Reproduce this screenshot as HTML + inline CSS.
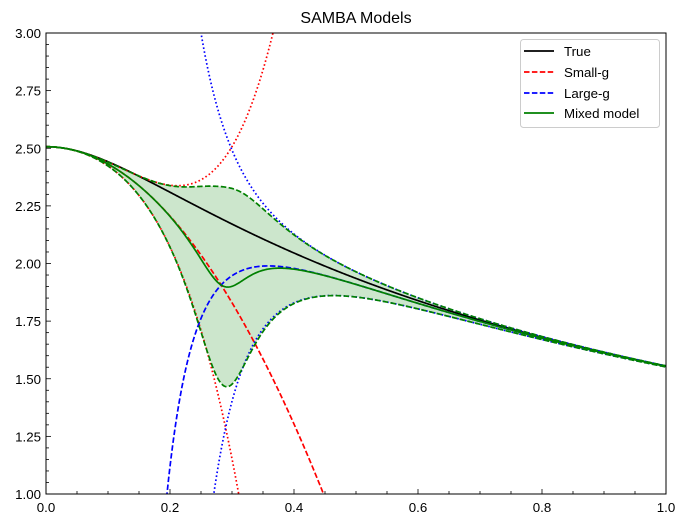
<!DOCTYPE html>
<html><head><meta charset="utf-8"><style>
html,body{margin:0;padding:0;background:#fff;width:686px;height:523px;overflow:hidden;}
svg{display:block;font-family:"Liberation Sans","DejaVu Sans",sans-serif;}
</style></head><body>
<svg id="s" width="686" height="523" viewBox="0 0 686 523" xmlns="http://www.w3.org/2000/svg">
<defs><clipPath id="c"><rect x="46" y="33" width="620" height="461"/></clipPath></defs>
<rect width="686" height="523" fill="#fff"/>
<g id="plot" clip-path="url(#c)"></g>
<rect x="46" y="33" width="620" height="461" fill="none" stroke="#000" stroke-width="1"/>
<g id="ticks"></g>
<text x="356" y="23" font-size="16" text-anchor="middle">SAMBA Models</text>
<g>
<rect x="520.5" y="39.5" width="139" height="88" rx="3" fill="#fff" fill-opacity="0.8" stroke="#ccc" stroke-width="1"/>
<line x1="524" y1="51" x2="554" y2="51" stroke="#000" stroke-width="1.7"/>
<text x="564" y="56" font-size="13.3">True</text>
<line x1="524" y1="72" x2="554" y2="72" stroke="#f00" stroke-width="1.7" stroke-dasharray="5.5,2.4"/>
<text x="564" y="77" font-size="13.3">Small-g</text>
<line x1="524" y1="93" x2="554" y2="93" stroke="#00f" stroke-width="1.7" stroke-dasharray="5.5,2.4"/>
<text x="564" y="98" font-size="13.3">Large-g</text>
<line x1="524" y1="113" x2="554" y2="113" stroke="#008000" stroke-width="1.7"/>
<text x="564" y="118" font-size="13.3">Mixed model</text>
</g>
</svg>
<script>
(function(){
var NS="http://www.w3.org/2000/svg";
function X(x){return 46+620*x;}
function Y(y){return 494-230.5*(y-1);}
function cl_(y){return Math.max(0.9,Math.min(3.1,y));}
function trueF(g){var a=-8,b=8,n=1600,h=(b-a)/n,s=0;for(var i=0;i<=n;i++){var x=a+i*h;var f=Math.exp(-x*x/2-g*g*x*x*x*x);s+=f*((i==0||i==n)?1:(i%2?4:2));}return s*h/3;}
var cs=83.6, cl=0.002418;
function fs(g){return 2.50663-7.5199*g*g;}
function ss(g){return cs*Math.pow(g,4);}
var l=[1.81280,-0.30636,0.056648,-0.0095743];
function fl(g){var s=0;for(var k=0;k<4;k++)s+=l[k]*Math.pow(g,-k-0.5);return s;}
function sl(g){return cl*Math.pow(g,-4.5);}
function mix(g){var ws=1/Math.pow(ss(g),2),wl=1/Math.pow(sl(g),2);if(!isFinite(ws)){return [fs(g),ss(g)];}var w=ws+wl;return [(fs(g)*ws+fl(g)*wl)/w,1/Math.sqrt(w)];}
var plot=document.getElementById('plot');
function path(fn,g0,g1,stroke,dash){var d="",n=700;for(var i=0;i<=n;i++){var g=g0+(g1-g0)*i/n;var y=fn(g);if(!isFinite(y))continue;y=cl_(y);d+=(d?"L":"M")+X(g).toFixed(2)+","+Y(y).toFixed(2);}
var p=document.createElementNS(NS,'path');p.setAttribute('d',d);p.setAttribute('fill','none');p.setAttribute('stroke',stroke);p.setAttribute('stroke-width','1.7');if(dash)p.setAttribute('stroke-dasharray',dash);plot.appendChild(p);}
var up="",lo=[],n=700;
for(var i=0;i<=n;i++){var g=0.0001+(1-0.0001)*i/n;var m=mix(g);up+=(up?"L":"M")+X(g).toFixed(2)+","+Y(cl_(m[0]+m[1])).toFixed(2);lo.push(X(g).toFixed(2)+","+Y(cl_(m[0]-m[1])).toFixed(2));}
var fp=document.createElementNS(NS,'path');fp.setAttribute('d',up+"L"+lo.reverse().join("L")+"Z");fp.setAttribute('fill','#008000');fp.setAttribute('fill-opacity','0.2');plot.appendChild(fp);
var dot="1.6,2.4",dsh="5.5,2.4";
path(trueF,0,1,'#000');
path(fs,0,1,'#f00',dsh);
path(function(g){return fs(g)+ss(g);},0,1,'#f00',dot);
path(function(g){return fs(g)-ss(g);},0,1,'#f00',dot);
path(fl,0.12,1,'#00f',dsh);
path(function(g){return fl(g)+sl(g);},0.15,1,'#00f',dot);
path(function(g){return fl(g)-sl(g);},0.15,1,'#00f',dot);
path(function(g){return mix(g)[0];},0.0001,1,'#008000');
path(function(g){var m=mix(g);return m[0]+m[1];},0.0001,1,'#008000',dsh);
path(function(g){var m=mix(g);return m[0]-m[1];},0.0001,1,'#008000',dsh);
var t=document.getElementById('ticks');
function ln(x1,y1,x2,y2){var e=document.createElementNS(NS,'line');e.setAttribute('x1',x1);e.setAttribute('y1',y1);e.setAttribute('x2',x2);e.setAttribute('y2',y2);e.setAttribute('stroke','#000');e.setAttribute('stroke-width','0.8');t.appendChild(e);}
function tx(x,y,s,a){var e=document.createElementNS(NS,'text');e.setAttribute('x',x);e.setAttribute('y',y);e.setAttribute('font-size','13.3');e.setAttribute('text-anchor',a);e.textContent=s;t.appendChild(e);}
for(var k=0;k<=20;k++){var x=X(k*0.05);ln(x,494,x,494-(k%4==0?5:3));if(k%4==0)tx(x,512,(k*0.05).toFixed(1),'middle');}
for(var k=0;k<=40;k++){var yv=1+k*0.05,y=Y(yv);ln(46,y,46+(k%5==0?5:3),y);if(k%5==0)tx(41,y+5,yv.toFixed(2),'end');}
})();
</script>
</body></html>
